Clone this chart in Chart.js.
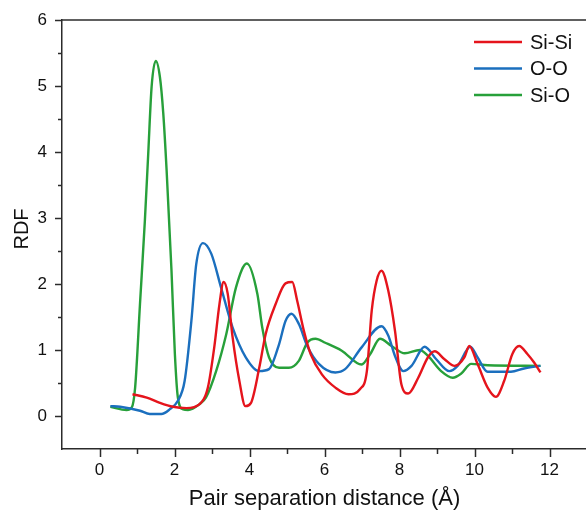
<!DOCTYPE html>
<html>
<head>
<meta charset="utf-8">
<script src="https://cdn.jsdelivr.net/npm/chart.js@4.4.1/dist/chart.umd.min.js"></script>
<style>
  html, body { margin: 0; padding: 0; background: #fff; overflow: hidden; }
</style>
</head>
<body>
<canvas id="rdfChart" width="590" height="514"></canvas>
<script>
// series labels
const seriesNames = ['Si-Si', 'O-O', 'Si-O'];
const seriesColors = ['#e5141c', '#1b6fbe', '#27a03a'];

// Si-Si
const siSiX = [0.88, 1.26, 1.61, 1.96, 2.32, 2.67, 2.89, 3.06, 3.20, 3.31, 3.42, 3.55, 3.73, 3.89, 4.04, 4.26, 4.43, 4.70, 4.96, 5.14, 5.27, 5.45, 5.63, 5.93, 6.29, 6.64, 6.95, 7.13, 7.26, 7.39, 7.52, 7.70, 7.88, 8.05, 8.23, 8.50, 8.76, 8.94, 9.20, 9.47, 9.73, 9.86, 10.08, 10.35, 10.57, 10.79, 11.01, 11.19, 11.41, 11.59, 11.76];
const siSiY = [0.33, 0.28, 0.20, 0.14, 0.12, 0.18, 0.43, 1.04, 1.70, 2.03, 1.85, 1.19, 0.53, 0.15, 0.20, 0.73, 1.24, 1.70, 2.01, 2.03, 1.75, 1.29, 0.94, 0.63, 0.43, 0.33, 0.41, 0.68, 1.60, 2.05, 2.20, 1.90, 1.29, 0.48, 0.34, 0.58, 0.89, 0.98, 0.86, 0.76, 0.89, 1.06, 0.79, 0.43, 0.29, 0.53, 0.94, 1.06, 0.94, 0.81, 0.66];

// O-O
const ooX = [0.29, 0.55, 1.08, 1.34, 1.65, 1.87, 2.09, 2.27, 2.45, 2.58, 2.76, 2.98, 3.24, 3.55, 3.90, 4.26, 4.52, 4.79, 4.96, 5.12, 5.32, 5.54, 5.85, 6.29, 6.55, 6.99, 7.52, 7.70, 7.88, 8.10, 8.32, 8.67, 8.98, 9.33, 9.55, 9.89, 10.08, 10.35, 10.97, 11.32, 11.76];
const ooY = [0.15, 0.14, 0.08, 0.03, 0.03, 0.10, 0.23, 0.53, 1.44, 2.30, 2.62, 2.46, 1.95, 1.34, 0.89, 0.68, 0.71, 1.09, 1.44, 1.55, 1.39, 1.06, 0.79, 0.66, 0.71, 1.04, 1.36, 1.22, 0.91, 0.68, 0.76, 1.05, 0.86, 0.68, 0.76, 1.05, 0.89, 0.67, 0.67, 0.72, 0.76];

// Si-O
const siOX = [0.29, 0.72, 0.86, 0.95, 1.08, 1.21, 1.30, 1.39, 1.50, 1.61, 1.70, 1.79, 1.92, 2.01, 2.09, 2.23, 2.36, 2.67, 2.84, 3.11, 3.38, 3.64, 3.93, 4.21, 4.34, 4.52, 4.79, 5.05, 5.32, 5.54, 5.76, 6.02, 6.46, 6.99, 7.22, 7.48, 7.79, 8.14, 8.54, 8.76, 9.11, 9.42, 9.64, 9.91, 10.35, 11.76];
const siOY = [0.14, 0.09, 0.13, 0.43, 1.70, 2.96, 3.98, 4.99, 5.38, 5.14, 4.59, 3.72, 2.20, 0.94, 0.28, 0.10, 0.09, 0.18, 0.28, 0.68, 1.24, 1.95, 2.31, 1.85, 1.34, 0.89, 0.73, 0.73, 0.84, 1.11, 1.17, 1.11, 0.99, 0.78, 0.94, 1.17, 1.06, 0.95, 1.00, 0.91, 0.68, 0.58, 0.64, 0.79, 0.77, 0.76];

// axis ranges
const xMin = -1, xMax = 13;
const yMin = -0.5, yMax = 6;

function toPoints(xs, ys) {
    return xs.map(function(x, i) { return { x: x, y: ys[i] }; });
}

const allX = [siSiX, ooX, siOX];
const allY = [siSiY, ooY, siOY];

const FONT = 'Arial, "Liberation Sans", sans-serif';
const AXIS_COLOR = '#2b2b2b';

// ticks, frame, y title and legend drawn on top of the chart
const decorPlugin = {
    id: 'decor',
    afterDraw: function(chart) {
        const ctx = chart.ctx;
        const area = chart.chartArea;
        const xs = chart.scales.x;
        const ys = chart.scales.y;
        ctx.save();
        ctx.strokeStyle = AXIS_COLOR;
        ctx.lineWidth = 1.5;

        // top frame line
        ctx.beginPath();
        ctx.moveTo(area.left, area.top);
        ctx.lineTo(area.right, area.top);
        ctx.stroke();

        // x ticks
        for (let v = 0; v <= 12; v++) {
            const px = Math.round(xs.getPixelForValue(v)) + 0.5;
            const len = v % 2 === 0 ? 8 : 5;
            ctx.beginPath();
            ctx.moveTo(px, area.bottom);
            ctx.lineTo(px, area.bottom + len);
            ctx.stroke();
        }
        // y ticks
        for (let v = 0; v <= 6; v += 0.5) {
            const py = Math.round(ys.getPixelForValue(v)) + 0.5;
            const len = Number.isInteger(v) ? 7 : 4;
            ctx.beginPath();
            ctx.moveTo(area.left, py);
            ctx.lineTo(area.left - len, py);
            ctx.stroke();
        }

        // y axis title
        ctx.fillStyle = '#111';
        ctx.font = '20px ' + FONT;
        ctx.textAlign = 'center';
        ctx.textBaseline = 'middle';
        ctx.translate(22, 229);
        ctx.rotate(-Math.PI / 2);
        ctx.fillText('RDF', 0, 0);
        ctx.setTransform(1, 0, 0, 1, 0, 0);

        // legend
        ctx.font = '20px ' + FONT;
        ctx.textAlign = 'left';
        chart.data.datasets.forEach(function(ds, i) {
            const y = 42 + i * 26.5;
            ctx.strokeStyle = ds.borderColor;
            ctx.lineWidth = 2.3;
            ctx.beginPath();
            ctx.moveTo(474, y);
            ctx.lineTo(522, y);
            ctx.stroke();
            ctx.fillStyle = '#111';
            ctx.fillText(ds.label, 530, y + 1);
        });
        ctx.restore();
    }
};

const ctx = document.getElementById('rdfChart').getContext('2d');

const rdfChart = new Chart(ctx, {
    type: 'line',
    data: {
        datasets: seriesNames.map(function(name, i) {
            return {
                label: name,
                data: toPoints(allX[i], allY[i]),
                borderColor: seriesColors[i],
                borderWidth: 2.4,
                pointRadius: 0,
                fill: false,
                tension: 0.4,
                cubicInterpolationMode: 'monotone'
            };
        })
    },
    options: {
        responsive: false,
        animation: false,
        devicePixelRatio: 1,
        layout: { padding: { top: 20, left: 0, right: 0, bottom: 0 } },
        plugins: {
            legend: { display: false },
            tooltip: { enabled: false }
        },
        scales: {
            x: {
                type: 'linear',
                min: xMin,
                max: xMax,
                afterFit: function(scale) { scale.height = 65; },
                border: { display: true, color: AXIS_COLOR, width: 1.5 },
                grid: { display: true, drawOnChartArea: false, drawTicks: true, tickLength: 8, color: 'rgba(0,0,0,0)' },
                ticks: {
                    stepSize: 1,
                    autoSkip: false,
                    maxRotation: 0,
                    padding: 3,
                    color: '#111',
                    font: { family: FONT, size: 17 },
                    callback: function(v) { return (v >= 0 && v <= 12 && v % 2 === 0) ? String(v) : ''; }
                },
                title: {
                    display: true,
                    text: 'Pair separation distance (Å)',
                    color: '#111',
                    font: { family: FONT, size: 22 },
                    padding: { top: 0, bottom: 2 }
                }
            },
            y: {
                min: yMin,
                max: yMax,
                afterFit: function(scale) { scale.width = 62; },
                border: { display: true, color: AXIS_COLOR, width: 1.5 },
                grid: { display: true, drawOnChartArea: false, drawTicks: true, tickLength: 7, color: 'rgba(0,0,0,0)' },
                ticks: {
                    stepSize: 0.5,
                    autoSkip: false,
                    padding: 8,
                    color: '#111',
                    font: { family: FONT, size: 17 },
                    callback: function(v) { return Number.isInteger(v) && v >= 0 ? String(v) : ''; }
                }
            }
        }
    },
    plugins: [decorPlugin]
});
</script>
</body>
</html>
